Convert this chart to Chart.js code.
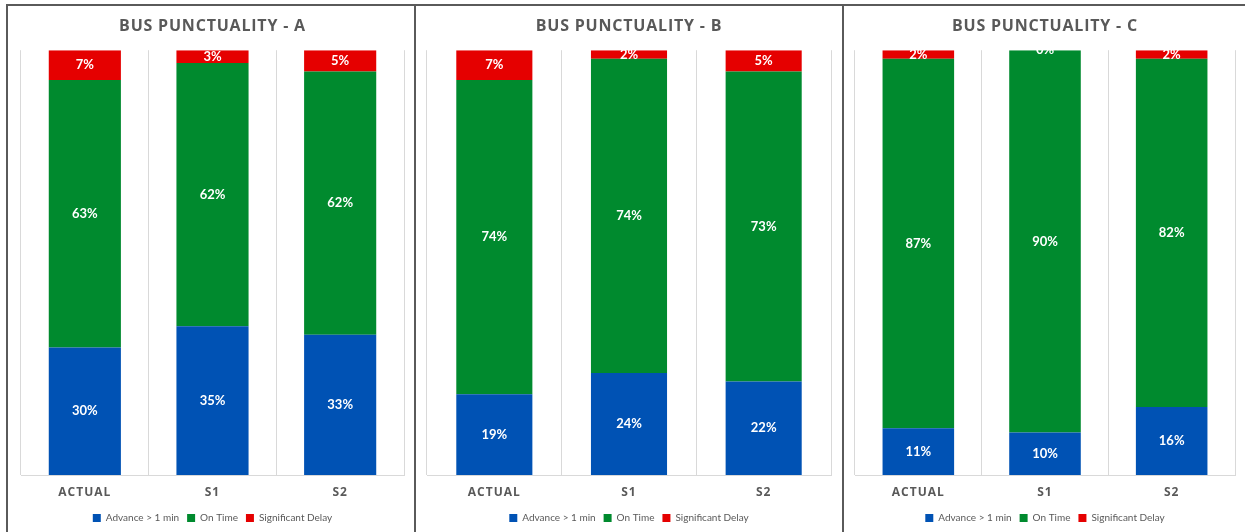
<!DOCTYPE html>
<html>
<head>
<meta charset="utf-8">
<script src="https://cdn.jsdelivr.net/npm/chart.js@4/dist/chart.umd.min.js"></script>
<style>
  html, body { margin: 0; padding: 0; background: #ffffff; width: 1245px; height: 532px; overflow: hidden; position: relative; }
  .panel { position: absolute; top: 4px; border: 2px solid #5a5a5a; background: #fff; box-sizing: border-box; height: 540px; overflow: hidden; }
  .panel canvas { display: block; }
</style>
</head>
<body>
<div class="panel" id="pA" style="left:6px;width:410px;"><canvas id="cA" width="406" height="527"></canvas></div>
<div class="panel" id="pB" style="left:414px;width:430px;"><canvas id="cB" width="426" height="527"></canvas></div>
<div class="panel" id="pC" style="left:842px;width:406px;"><canvas id="cC" width="402" height="527"></canvas></div>
<script>
// ---- Data ----
const categories = ['ACTUAL', 'S1', 'S2'];
const seriesNames = ['Advance > 1 min', 'On Time', 'Significant Delay'];
const chartTitles = ['BUS PUNCTUALITY - A', 'BUS PUNCTUALITY - B', 'BUS PUNCTUALITY - C'];

const advanceA = [30, 35, 33];
const onTimeA  = [63, 62, 62];
const delayA   = [7, 3, 5];

const advanceB = [19, 24, 22];
const onTimeB  = [74, 74, 73];
const delayB   = [7, 2, 5];

const advanceC = [11, 10, 16];
const onTimeC  = [87, 90, 82];
const delayC   = [2, 0, 2];

// ---- Styles ----
const seriesColors = ['#0052b4', '#008a2e', '#e50000'];
const textGray = '#595959';
const gridGray = '#d9d9d9';

const dataLabelPlugin = {
  id: 'dataLabels',
  afterDatasetsDraw(chart) {
    const ctx = chart.ctx;
    ctx.save();
    ctx.font = 'bold 13px Lato, "Open Sans", sans-serif';
    ctx.fillStyle = '#ffffff';
    ctx.textAlign = 'center';
    ctx.textBaseline = 'middle';
    chart.data.datasets.forEach((ds, di) => {
      const meta = chart.getDatasetMeta(di);
      meta.data.forEach((el, i) => {
        const v = ds.data[i];
        const y = (el.y + el.base) / 2;
        ctx.fillText(v + '%', el.x, y);
      });
    });
    ctx.restore();
  }
};

function wrapSpacing(chart, obj, name, spacing) {
  const orig = obj[name];
  obj[name] = function (...args) {
    const ctx = chart.ctx;
    ctx.save();
    ctx.letterSpacing = spacing;
    const r = orig.apply(this, args);
    ctx.restore();
    return r;
  };
}

const spacingPlugin = {
  id: 'spacing',
  beforeDraw(chart) {
    if (!chart.$spaced) {
      chart.$spaced = true;
      if (chart.titleBlock) wrapSpacing(chart, chart.titleBlock, 'draw', '0.8px');
      if (chart.scales.x) wrapSpacing(chart, chart.scales.x, 'drawLabels', '1px');
    }
  }
};

function makeChart(canvasId, title, adv, ont, del, padLeft, padRight) {
  return new Chart(document.getElementById(canvasId), {
    type: 'bar',
    data: {
      labels: categories,
      datasets: [
        { label: seriesNames[0], data: adv, backgroundColor: seriesColors[0] },
        { label: seriesNames[1], data: ont, backgroundColor: seriesColors[1] },
        { label: seriesNames[2], data: del, backgroundColor: seriesColors[2] }
      ]
    },
    options: {
      responsive: false,
      animation: false,
      devicePixelRatio: 1,
      layout: { padding: { left: padLeft, right: padRight, top: 0, bottom: 0 } },
      datasets: { bar: { categoryPercentage: 1.0, barPercentage: 0.565, borderWidth: 0 } },
      plugins: {
        title: {
          display: true,
          text: title,
          color: textGray,
          font: { family: '"Open Sans", sans-serif', size: 16, weight: 'bold', lineHeight: 1.2 },
          padding: { top: 11, bottom: 14 }
        },
        legend: {
          display: true,
          position: 'bottom',
          labels: {
            boxWidth: 8,
            boxHeight: 8,
            padding: 8,
            color: textGray,
            font: { family: 'Lato, "Open Sans", sans-serif', size: 10 }
          }
        },
        tooltip: { enabled: false }
      },
      scales: {
        x: {
          stacked: true,
          grid: { display: true, color: gridGray, lineWidth: 1, drawTicks: false, offset: true },
          border: { display: true, color: gridGray },
          ticks: {
            color: textGray,
            padding: 10,
            font: { family: '"Open Sans", sans-serif', size: 12, weight: 'bold' }
          },
          afterFit(scale) { scale.height = 30; }
        },
        y: {
          stacked: true,
          display: false,
          min: 0,
          max: 100
        }
      }
    },
    plugins: [dataLabelPlugin, spacingPlugin]
  });
}

const chA = makeChart('cA', chartTitles[0], advanceA, onTimeA, delayA, 13, 10);
const chB = makeChart('cB', chartTitles[1], advanceB, onTimeB, delayB, 11, 11);
const chC = makeChart('cC', chartTitles[2], advanceC, onTimeC, delayC, 11, 11);
[chA, chB, chC].forEach(c => c.draw());
</script>
</body>
</html>
